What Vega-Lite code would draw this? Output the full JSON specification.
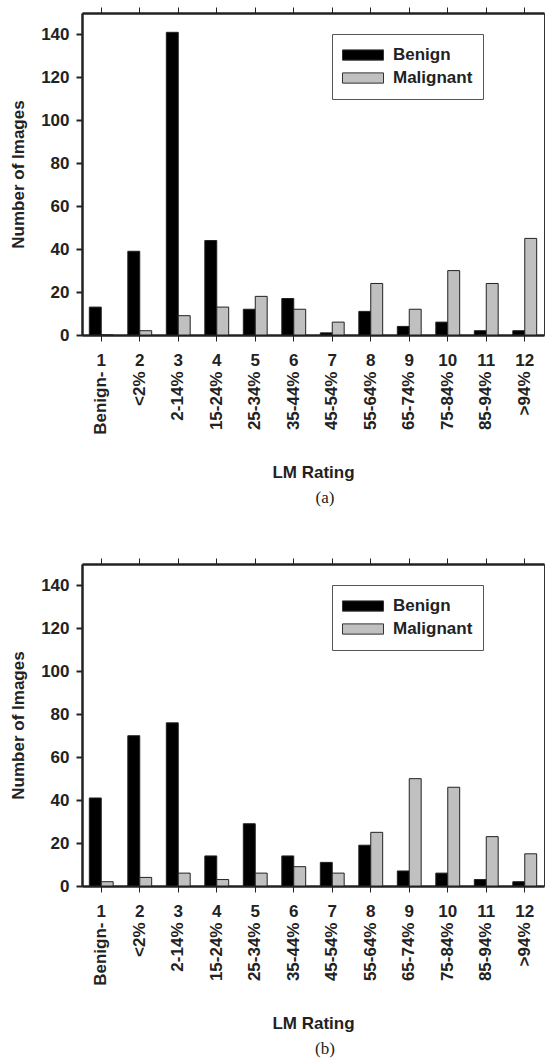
{
  "$schema": "https://vega.github.io/schema/vega-lite/v6.json",
  "padding": {"left": 9, "top": 6, "right": 0, "bottom": 0},
  "background": "white",
  "config": {
    "font": "Liberation Sans",
    "view": {"stroke": "#333", "strokeWidth": 1},
    "axis": {
      "labelFont": "Liberation Sans", "labelFontWeight": "bold", "labelFontSize": 17, "labelColor": "#222",
      "titleFont": "Liberation Sans", "titleFontWeight": "bold", "titleFontSize": 17, "titleColor": "#222",
      "domainColor": "#222", "domainWidth": 2.5, "tickColor": "#222", "grid": false
    },
    "bar": {"stroke": "#222", "strokeWidth": 1},
    "legend": {
      "orient": "none", "legendX": 250, "legendY": 21, "direction": "vertical",
      "strokeColor": "#555", "strokeWidth": 1, "fillColor": "white", "padding": 10,
      "labelFont": "Liberation Sans", "labelFontWeight": "bold", "labelFontSize": 17, "labelColor": "#222",
      "symbolType": "M-1,-0.25H1V0.25H-1Z", "symbolSize": 1681, "symbolStrokeColor": "#333", "symbolStrokeWidth": 1,
      "clipHeight": 22, "rowPadding": 1, "labelOffset": 9
    },
    "concat": {"spacing": 50}
  },
  "datasets": {
    "a": [
      {"rating": 1, "group": "Benign", "count": 13},
      {"rating": 2, "group": "Benign", "count": 39},
      {"rating": 3, "group": "Benign", "count": 141},
      {"rating": 4, "group": "Benign", "count": 44},
      {"rating": 5, "group": "Benign", "count": 12},
      {"rating": 6, "group": "Benign", "count": 17},
      {"rating": 7, "group": "Benign", "count": 1},
      {"rating": 8, "group": "Benign", "count": 11},
      {"rating": 9, "group": "Benign", "count": 4},
      {"rating": 10, "group": "Benign", "count": 6},
      {"rating": 11, "group": "Benign", "count": 2},
      {"rating": 12, "group": "Benign", "count": 2},
      {"rating": 1, "group": "Malignant", "count": 0},
      {"rating": 2, "group": "Malignant", "count": 2},
      {"rating": 3, "group": "Malignant", "count": 9},
      {"rating": 4, "group": "Malignant", "count": 13},
      {"rating": 5, "group": "Malignant", "count": 18},
      {"rating": 6, "group": "Malignant", "count": 12},
      {"rating": 7, "group": "Malignant", "count": 6},
      {"rating": 8, "group": "Malignant", "count": 24},
      {"rating": 9, "group": "Malignant", "count": 12},
      {"rating": 10, "group": "Malignant", "count": 30},
      {"rating": 11, "group": "Malignant", "count": 24},
      {"rating": 12, "group": "Malignant", "count": 45}
    ],
    "b": [
      {"rating": 1, "group": "Benign", "count": 41},
      {"rating": 2, "group": "Benign", "count": 70},
      {"rating": 3, "group": "Benign", "count": 76},
      {"rating": 4, "group": "Benign", "count": 14},
      {"rating": 5, "group": "Benign", "count": 29},
      {"rating": 6, "group": "Benign", "count": 14},
      {"rating": 7, "group": "Benign", "count": 11},
      {"rating": 8, "group": "Benign", "count": 19},
      {"rating": 9, "group": "Benign", "count": 7},
      {"rating": 10, "group": "Benign", "count": 6},
      {"rating": 11, "group": "Benign", "count": 3},
      {"rating": 12, "group": "Benign", "count": 2},
      {"rating": 1, "group": "Malignant", "count": 2},
      {"rating": 2, "group": "Malignant", "count": 4},
      {"rating": 3, "group": "Malignant", "count": 6},
      {"rating": 4, "group": "Malignant", "count": 3},
      {"rating": 5, "group": "Malignant", "count": 6},
      {"rating": 6, "group": "Malignant", "count": 9},
      {"rating": 7, "group": "Malignant", "count": 6},
      {"rating": 8, "group": "Malignant", "count": 25},
      {"rating": 9, "group": "Malignant", "count": 50},
      {"rating": 10, "group": "Malignant", "count": 46},
      {"rating": 11, "group": "Malignant", "count": 23},
      {"rating": 12, "group": "Malignant", "count": 15}
    ]
  },
  "vconcat": [
    {
      "width": 462, "height": 322,
      "data": {"name": "a"},
      "title": {"text": "(a)", "orient": "bottom", "font": "Liberation Serif", "fontSize": 17, "fontWeight": "normal", "color": "#222", "offset": 10, "dx": 12},
      "layer": [
        {
          "mark": {"type": "bar"},
          "encoding": {
            "x": {"field": "rating", "type": "ordinal", "scale": {"paddingInner": 0.38, "paddingOuter": 0.19},
                  "axis": {"orient": "bottom", "title": null, "labelAngle": 0, "tickSize": 6, "labelPadding": 11}},
            "xOffset": {"field": "group", "type": "nominal", "sort": ["Benign", "Malignant"], "scale": {"paddingInner": 0, "paddingOuter": 0}},
            "y": {"field": "count", "type": "quantitative", "scale": {"domain": [0, 150], "nice": false},
                  "axis": {"values": [0, 20, 40, 60, 80, 100, 120, 140], "title": "Number of Images", "titlePadding": 13, "tickSize": 6, "tickWidth": 2, "labelPadding": 7}},
            "color": {"field": "group", "type": "nominal", "scale": {"domain": ["Benign", "Malignant"], "range": ["#000000", "#c0c0c0"]}, "legend": {"title": null}}
          }
        },
        {
          "mark": {"type": "bar", "opacity": 0},
          "encoding": {
            "x": {"field": "rating", "type": "ordinal",
                  "axis": {"orient": "bottom", "labelAngle": -90, "ticks": false, "tickSize": 0, "domain": false, "labelPadding": 36, "labelFontSize": 17, "title": "LM Rating", "titlePadding": 30,
                           "labelExpr": "['Benign-','<2%','2-14%','15-24%','25-34%','35-44%','45-54%','55-64%','65-74%','75-84%','85-94%','>94%'][datum.value - 1]"}},
            "y": {"field": "count", "type": "quantitative"}
          }
        },
        {
          "mark": {"type": "bar", "opacity": 0},
          "encoding": {
            "x": {"field": "rating", "type": "ordinal",
                  "axis": {"orient": "top", "labels": false, "title": null, "tickSize": 6}},
            "y": {"field": "count", "type": "quantitative"}
          }
        }
      ],
      "resolve": {"axis": {"x": "independent"}}
    },
    {
      "width": 462, "height": 322,
      "data": {"name": "b"},
      "title": {"text": "(b)", "orient": "bottom", "font": "Liberation Serif", "fontSize": 17, "fontWeight": "normal", "color": "#222", "offset": 10, "dx": 12},
      "layer": [
        {
          "mark": {"type": "bar"},
          "encoding": {
            "x": {"field": "rating", "type": "ordinal", "scale": {"paddingInner": 0.38, "paddingOuter": 0.19},
                  "axis": {"orient": "bottom", "title": null, "labelAngle": 0, "tickSize": 6, "labelPadding": 11}},
            "xOffset": {"field": "group", "type": "nominal", "sort": ["Benign", "Malignant"], "scale": {"paddingInner": 0, "paddingOuter": 0}},
            "y": {"field": "count", "type": "quantitative", "scale": {"domain": [0, 150], "nice": false},
                  "axis": {"values": [0, 20, 40, 60, 80, 100, 120, 140], "title": "Number of Images", "titlePadding": 13, "tickSize": 6, "tickWidth": 2, "labelPadding": 7}},
            "color": {"field": "group", "type": "nominal", "scale": {"domain": ["Benign", "Malignant"], "range": ["#000000", "#c0c0c0"]}, "legend": {"title": null}}
          }
        },
        {
          "mark": {"type": "bar", "opacity": 0},
          "encoding": {
            "x": {"field": "rating", "type": "ordinal",
                  "axis": {"orient": "bottom", "labelAngle": -90, "ticks": false, "tickSize": 0, "domain": false, "labelPadding": 36, "labelFontSize": 17, "title": "LM Rating", "titlePadding": 30,
                           "labelExpr": "['Benign-','<2%','2-14%','15-24%','25-34%','35-44%','45-54%','55-64%','65-74%','75-84%','85-94%','>94%'][datum.value - 1]"}},
            "y": {"field": "count", "type": "quantitative"}
          }
        },
        {
          "mark": {"type": "bar", "opacity": 0},
          "encoding": {
            "x": {"field": "rating", "type": "ordinal",
                  "axis": {"orient": "top", "labels": false, "title": null, "tickSize": 6}},
            "y": {"field": "count", "type": "quantitative"}
          }
        }
      ],
      "resolve": {"axis": {"x": "independent"}}
    }
  ],
  "resolve": {"scale": {"x": "independent", "y": "independent", "color": "independent"}, "legend": {"color": "independent"}}
}
